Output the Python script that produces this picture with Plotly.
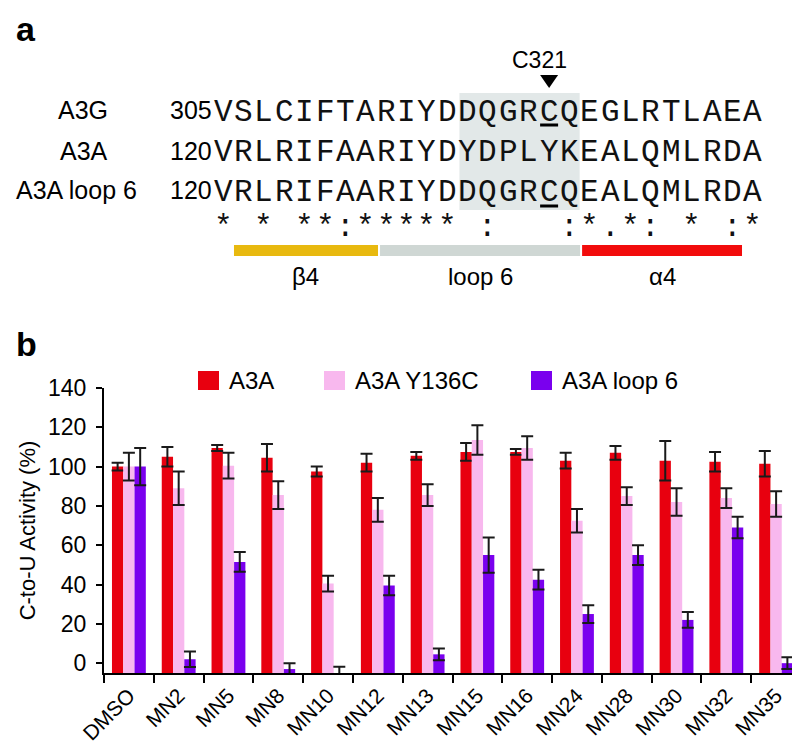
import plotly.graph_objects as go

# ---------------- data ----------------
categories = ["DMSO", "MN2", "MN5", "MN8", "MN10", "MN12", "MN13",
              "MN15", "MN16", "MN24", "MN28", "MN30", "MN32", "MN35"]
series_names = ["A3A", "A3A Y136C", "A3A loop 6"]
a3a = [100, 105, 109.5, 104.5, 97.5, 102, 105.5, 107.5, 107.5, 103, 107, 103, 102.5, 101.5]
a3a_err = [2, 5, 1.5, 7, 2.5, 4.5, 2, 4.5, 1.5, 4, 3.5, 10, 5, 6.5]
y136c = [100, 89, 100.5, 85.5, 40.5, 78, 85.5, 113.5, 109.5, 72.5, 85, 82, 84, 81]
y136c_err = [7, 8.5, 6.5, 7, 4, 6, 5.5, 7.5, 6, 6, 4.5, 7, 5, 6.5]
loop6 = [100, 2, 51.5, -3, -5, 39.5, 4.5, 55, 42.5, 25, 55, 22, 69, 0]
loop6_err = [9.5, 4, 5, 3, 3.2, 5, 3, 9, 5, 4.5, 5, 4, 5.5, 3]
y_ticks = [0, 20, 40, 60, 80, 100, 120, 140]
y_title = "C-to-U Activity (%)"

seq_names = ["A3G", "A3A", "A3A loop 6"]
seq_starts = ["305", "120", "120"]
sequences = ["VSLCIFTARIYDDQGRCQEGLRTLAEA",
             "VRLRIFAARIYDYDPLYKEALQMLRDA",
             "VRLRIFAARIYDDQGRCQEALQMLRDA"]
conservation = "* * **:***** :   :*.*: * :*"
structure_labels = ["β4", "loop 6", "α4"]
structure_spans = [(1.03, 8.1), (8.2, 18.02), (18.12, 25.97)]
marked_residue = "C321"

# ---------------- style ----------------
W, H = 800, 744
SANS = "Liberation Sans, Arial, sans-serif"
MONO = "Liberation Mono, Courier New, monospace"
colors = ["#e8000f", "#f8b8ee", "#7a00ee"]
struct_colors = ["#e8b90f", "#cfd7d4", "#f20c0c"]
BASE = -5


def px(x):
    return x / W


def py(y):
    return 1 - y / H


fig = go.Figure()
for name, vals, errs, col in zip(series_names, [a3a, y136c, loop6],
                                 [a3a_err, y136c_err, loop6_err], colors):
    fig.add_trace(go.Bar(
        x=categories, y=[v - BASE for v in vals], base=BASE, name=name,
        marker=dict(color=col, line=dict(width=0)),
        error_y=dict(type="data", array=errs, color="#1a1a1a", thickness=2, width=6),
        cliponaxis=False, showlegend=False,
        customdata=vals, hovertemplate="%{x}: %{customdata}<extra>" + name + "</extra>",
    ))

annotations = []
shapes = []

# panel labels
annotations.append(dict(text="<b>a</b>", x=px(6), y=py(21), xanchor="left", yanchor="middle",
                        font=dict(family=SANS, size=34, color="black")))
annotations.append(dict(text="<b>b</b>", x=px(6), y=py(336), xanchor="left", yanchor="middle",
                        font=dict(family=SANS, size=34, color="black")))

# alignment
x0_seq, pitch = 205.0, 20.37
row_y = [102.5, 142.5, 182]
label_cx = [75, 75.5, 68]


def cell_center(i):
    return x0_seq + (i + 0.5) * pitch


# shaded loop box
shapes.append(dict(type="rect", xref="paper", yref="paper",
                   x0=px(x0_seq + 12 * pitch + 2), x1=px(x0_seq + 18 * pitch),
                   y0=py(85), y1=py(202), fillcolor="#e2e8e8", line=dict(width=0), layer="below"))

for r in range(3):
    annotations.append(dict(text=seq_names[r], x=px(label_cx[r]), y=py(row_y[r]),
                            xanchor="center", yanchor="middle",
                            font=dict(family=SANS, size=25, color="black")))
    annotations.append(dict(text=seq_starts[r], x=px(160), y=py(row_y[r]),
                            xanchor="left", yanchor="middle",
                            font=dict(family=SANS, size=25, color="black")))
    for i, ch in enumerate(sequences[r]):
        annotations.append(dict(text=ch, x=px(cell_center(i)), y=py(row_y[r] + 2),
                                xanchor="center", yanchor="middle",
                                font=dict(family=MONO, size=31, color="#111")))

for i, ch in enumerate(conservation):
    if ch != " ":
        annotations.append(dict(text=ch, x=px(cell_center(i)), y=py(220),
                                xanchor="center", yanchor="middle",
                                font=dict(family=MONO, size=31, color="#111")))

# underlines for the marked cysteine
c_idx = 16
for uy in (117, 198):
    shapes.append(dict(type="line", xref="paper", yref="paper",
                       x0=px(cell_center(c_idx) - 9), x1=px(cell_center(c_idx) + 9),
                       y0=py(uy), y1=py(uy), line=dict(color="black", width=3)))

# marker triangle and label
cx = cell_center(c_idx)
shapes.append(dict(type="path", xref="paper", yref="paper",
                   path=f"M {px(cx-9)} {py(67)} L {px(cx+9)} {py(67)} L {px(cx)} {py(80)} Z",
                   fillcolor="black", line=dict(width=0)))
annotations.append(dict(text=marked_residue, x=px(531), y=py(52), xanchor="center", yanchor="middle",
                        font=dict(family=SANS, size=23, color="black")))

# secondary structure bars
for lab, (s0, s1), col in zip(structure_labels, structure_spans, struct_colors):
    xa, xb = x0_seq + s0 * pitch, x0_seq + s1 * pitch
    shapes.append(dict(type="rect", xref="paper", yref="paper", x0=px(xa), x1=px(xb),
                       y0=py(237), y1=py(248), fillcolor=col, line=dict(width=0)))
    annotations.append(dict(text=lab, x=px((xa + xb) / 2), y=py(268), xanchor="center", yanchor="middle",
                            font=dict(family=SANS, size=24, color="black")))

# manual legend
leg_x = [190, 316, 523]
for name, col, lx in zip(series_names, colors, leg_x):
    shapes.append(dict(type="rect", xref="paper", yref="paper", x0=px(lx), x1=px(lx + 21),
                       y0=py(363), y1=py(382), fillcolor=col, line=dict(width=0)))
    annotations.append(dict(text=name, x=px(lx + 29), y=py(372.5), xanchor="left", yanchor="middle",
                            font=dict(family=SANS, size=24, color="black")))

for a in annotations:
    a.update(xref="paper", yref="paper", showarrow=False)

fig.update_layout(
    width=W, height=H,
    margin=dict(l=0, r=0, t=0, b=0),
    plot_bgcolor="white", paper_bgcolor="white",
    barmode="group", bargap=0.32, bargroupgap=0,
    font=dict(family=SANS, color="black"),
    annotations=annotations, shapes=shapes,
    showlegend=False,
    xaxis=dict(domain=[px(96), px(793)], type="category", tickson="boundaries",
               ticks="outside", ticklen=8, tickwidth=2, tickcolor="black",
               showline=True, linewidth=2, linecolor="black", showgrid=False,
               tickangle=-45, tickfont=dict(family=SANS, size=21, color="black"),
               automargin=False, anchor="y"),
    yaxis=dict(domain=[py(665), py(380)], range=[BASE, 140], tickvals=y_ticks,
               ticks="outside", ticklen=6, tickwidth=2, tickcolor="black",
               ticklabelstandoff=5,
               showline=True, linewidth=2, linecolor="black", showgrid=False, zeroline=False,
               tickfont=dict(family=SANS, size=23, color="black"),
               title=dict(text=y_title, font=dict(family=SANS, size=22, color="black"), standoff=6),
               automargin=False, anchor="x"),
)

fig.write_html("out.html")
